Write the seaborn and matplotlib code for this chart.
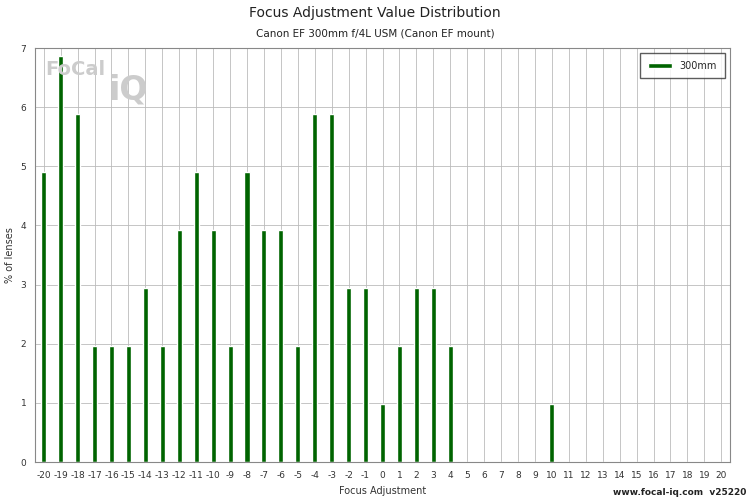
import matplotlib
matplotlib.use("Agg")
import matplotlib.pyplot as plt
import seaborn as sns
import pandas as pd

adjustments = list(range(-20, 21))
measured = {-20: 4.90, -19: 6.86, -18: 5.88, -17: 1.96, -16: 1.96, -15: 1.96,
            -14: 2.94, -13: 1.96, -12: 3.92, -11: 4.90, -10: 3.92, -9: 1.96,
            -8: 4.90, -7: 3.92, -6: 3.92, -5: 1.96, -4: 5.88, -3: 5.88,
            -2: 2.94, -1: 2.94, 0: 0.98, 1: 1.96, 2: 2.94, 3: 2.94, 4: 1.96,
            10: 0.98}
percent = [measured.get(a, 0) for a in adjustments]

df = pd.DataFrame({"adj": [str(a) for a in adjustments], "pct": percent})

sns.set_style("white")
fig = plt.figure(figsize=(7.5, 5), dpi=100)
ax = fig.add_axes([0.047, 0.076, 0.926, 0.828])

sns.barplot(data=df, x="adj", y="pct", order=[str(a) for a in adjustments],
            color="#006400", width=0.3, saturation=1, ax=ax, label="300mm")

ax.set_xlim(-0.5, len(adjustments) - 0.5)
ax.set_ylim(0, 7)
ax.set_yticks(range(0, 8))
ax.set_xticks(range(len(adjustments)))
ax.set_xticklabels([str(a) for a in adjustments])
ax.tick_params(labelsize=6.5, colors="#333333", length=3)
ax.grid(True, color="#bbbbbb", linewidth=0.6)
ax.set_axisbelow(True)
for s in ax.spines.values():
    s.set_color("#888888")
    s.set_linewidth(0.8)
ax.set_xlabel("Focus Adjustment", fontsize=7, color="#333333")
ax.set_ylabel("% of lenses", fontsize=7, color="#333333")

fig.text(0.5, 0.965, "Focus Adjustment Value Distribution", ha="center", fontsize=10, color="#222222")
fig.text(0.5, 0.928, "Canon EF 300mm f/4L USM (Canon EF mount)", ha="center", fontsize=7.5, color="#222222")
fig.text(0.995, 0.01, "www.focal-iq.com  v25220", ha="right", fontsize=6.5, color="#222222", weight="bold")
fig.text(0.06, 0.85, "FoCal", fontsize=14, color="#cccccc", weight="bold")
fig.text(0.145, 0.8, "iQ", fontsize=24, color="#cccccc", weight="bold")

leg = ax.legend(loc="upper right", fontsize=7, frameon=True, fancybox=False,
                edgecolor="#333333", borderpad=0.8, handlelength=2.5, handleheight=0.4)

fig.savefig("out.png", dpi=100)
